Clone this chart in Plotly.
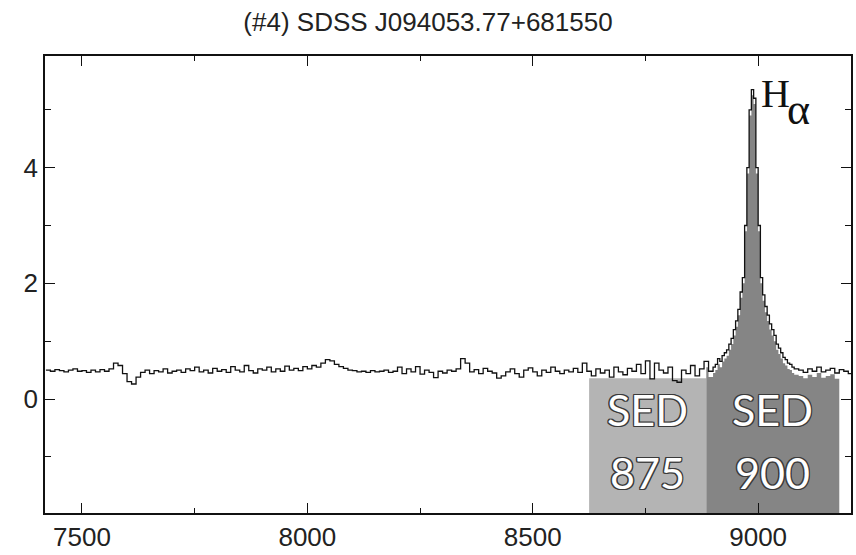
import numpy as np
import plotly.graph_objects as go

# ---------------- data ----------------
title_text = "(#4) SDSS J094053.77+681550"

# continuum, 7420-8890 A, 10 A steps
wl_a = list(range(7420, 8900, 10))
flux_a = [
    0.50, 0.48, 0.51, 0.49, 0.47, 0.50, 0.52, 0.48,
    0.49, 0.46, 0.50, 0.47, 0.51, 0.48, 0.52, 0.62, 0.58, 0.44,
    0.30, 0.26, 0.38, 0.46, 0.50, 0.44, 0.49, 0.47, 0.52, 0.45,
    0.48, 0.50, 0.46, 0.52, 0.49, 0.55, 0.47, 0.50, 0.45, 0.53,
    0.48, 0.51, 0.46, 0.56, 0.50, 0.47, 0.58, 0.49, 0.45, 0.52,
    0.50, 0.55, 0.47, 0.52, 0.48, 0.57, 0.50, 0.53, 0.49, 0.56,
    0.52, 0.58, 0.55, 0.62, 0.68, 0.66, 0.60, 0.56, 0.53, 0.50,
    0.49, 0.47, 0.48, 0.46, 0.49, 0.47, 0.48, 0.50, 0.46, 0.48,
    0.55, 0.44, 0.52, 0.47, 0.56, 0.43, 0.50, 0.46, 0.37, 0.48,
    0.45, 0.50, 0.48, 0.52, 0.70, 0.62, 0.47, 0.51, 0.44, 0.53,
    0.48, 0.45, 0.36, 0.40, 0.47, 0.52, 0.44, 0.38, 0.50, 0.54,
    0.47, 0.40, 0.50, 0.46, 0.55, 0.48, 0.44, 0.50, 0.47, 0.53,
    0.46, 0.62, 0.48, 0.40, 0.52, 0.45, 0.50, 0.38, 0.55, 0.47,
    0.42, 0.53, 0.48, 0.60, 0.44, 0.66, 0.35, 0.62, 0.50, 0.45,
    0.55, 0.32, 0.29, 0.50, 0.44, 0.58, 0.40, 0.52, 0.65, 0.48,
]
# H-alpha region, 8900-9080 A, 5 A steps
wl_b = list(range(8900, 9085, 5))
flux_b = [
    0.55, 0.60, 0.70, 0.65, 0.75, 0.80, 0.85, 0.95, 1.05, 1.20,
    1.35, 1.55, 1.85, 2.10, 3.00, 4.00, 5.00, 5.35, 5.20, 4.00,
    3.00, 2.10, 1.80, 1.60, 1.45, 1.30, 1.20, 1.10, 0.95, 0.88,
    0.80, 0.72, 0.68, 0.62, 0.60, 0.55, 0.52,
]
# red end, 9090-9210 A
wl_c = list(range(9090, 9215, 10))
flux_c = [0.50, 0.46, 0.52, 0.48, 0.55, 0.47, 0.50, 0.53, 0.45, 0.51, 0.48, 0.44, 0.35]

wavelength = np.array(wl_a + wl_b + wl_c, dtype=float)
flux = np.array(flux_a + flux_b + flux_c)

# SED filter bands (edges in A) and labels
sed_edges = [8625, 8885, 9180]
sed_names = ["875", "900"]
sed_colors = ["#b4b4b4", "#858585"]
light_band_top = 0.36
fill_offset = 0.10

x_range = [7418, 9206]
y_range = [-1.97, 5.93]
x_ticks = [7500, 8000, 8500, 9000]
y_ticks = [0, 2, 4]

# ---------------- figure ----------------
fig = go.Figure()

# light band (SED 875): rectangle
fig.add_shape(type="rect", xref="x", yref="y",
              x0=sed_edges[0], x1=sed_edges[1], y0=y_range[0], y1=light_band_top,
              fillcolor=sed_colors[0], line=dict(width=0), layer="below")

# dark band (SED 900): filled under the spectrum (step curve), starting exactly at the band edge
mask = (wavelength > sed_edges[1]) & (wavelength <= sed_edges[2])
i0 = np.searchsorted(wavelength, sed_edges[1]) - 1
wx = np.concatenate([[sed_edges[1]], wavelength[mask]])
wy = np.concatenate([[flux[i0]], flux[mask]]) - fill_offset
fig.add_trace(go.Scatter(x=wx, y=np.full(len(wx), y_range[0]), mode="lines",
                         line=dict(width=0, color=sed_colors[1]), line_shape="hv",
                         hoverinfo="skip", showlegend=False))
fig.add_trace(go.Scatter(x=wx, y=wy, mode="lines",
                         line=dict(width=0, color=sed_colors[1]), line_shape="hv",
                         fill="tonexty", fillcolor=sed_colors[1],
                         hoverinfo="skip", showlegend=False))

# spectrum
fig.add_trace(go.Scatter(x=wavelength, y=flux, mode="lines", line_shape="hv",
                         line=dict(color="#111111", width=1.3), showlegend=False))

# SED labels
outline = "#3a3a3a"
d = "1.2px"
sed_font = dict(family="Lato", size=43, color="white", weight="normal",
                shadow=(f"-{d} -{d} 0 {outline}, {d} -{d} 0 {outline}, "
                        f"-{d} {d} 0 {outline}, {d} {d} 0 {outline}, "
                        f"0 {d} 0 {outline}, 0 -{d} 0 {outline}, "
                        f"{d} 0 0 {outline}, -{d} 0 0 {outline}"))
for i, name in enumerate(sed_names):
    xc = (sed_edges[i] + sed_edges[i + 1]) / 2
    fig.add_annotation(x=xc, y=-0.18, text="SED", showarrow=False, font=sed_font,
                       xanchor="center", yanchor="middle")
    fig.add_annotation(x=xc, y=-1.27, text=name, showarrow=False, font=sed_font,
                       xanchor="center", yanchor="middle")

# H-alpha label
fig.add_annotation(x=9003, y=5.28, text="H", showarrow=False, xanchor="left", yanchor="middle",
                   font=dict(family="Liberation Serif", size=40, color="#111111"))
fig.add_annotation(x=9060, y=5.0, text="α", showarrow=False, xanchor="left", yanchor="middle",
                   font=dict(family="Liberation Serif", size=44, color="#111111"))

axis_common = dict(showgrid=False, zeroline=False, showline=True, linecolor="#111111",
                   linewidth=1.5, mirror="ticks", ticks="inside", tickcolor="#111111",
                   tickwidth=1.3, ticklen=10,
                   tickfont=dict(family="Liberation Sans", size=26, color="#222222"))

fig.update_xaxes(range=x_range, tickvals=x_ticks, ticktext=[str(v) for v in x_ticks],
                 minor=dict(dtick=250, tick0=7500, ticks="inside", ticklen=5,
                            tickcolor="#111111", tickwidth=1.2),
                 **axis_common)
fig.update_yaxes(range=y_range, tickvals=y_ticks, ticktext=[str(v) for v in y_ticks],
                 minor=dict(dtick=1, tick0=0, ticks="inside", ticklen=6,
                            tickcolor="#111111", tickwidth=1.2),
                 **axis_common)

fig.update_layout(
    width=856, height=555,
    margin=dict(l=45, r=3, t=56, b=37),
    paper_bgcolor="white", plot_bgcolor="white",
    title=dict(text=title_text, x=0.5, xanchor="center", y=1 - 22 / 555, yref="container",
               yanchor="middle", font=dict(family="Liberation Sans", size=26, color="#222222")),
)

fig.write_html("out.html")
